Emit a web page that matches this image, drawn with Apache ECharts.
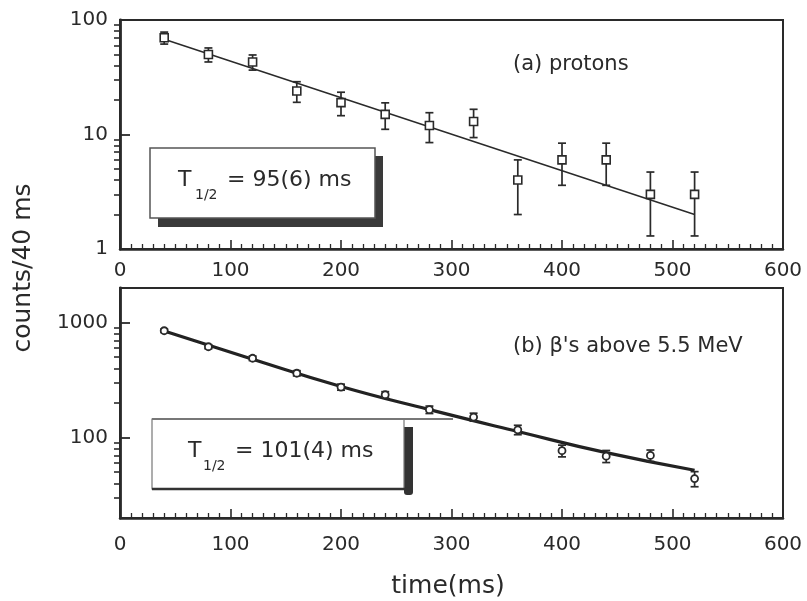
<!DOCTYPE html>
<html><head><meta charset="utf-8">
<script src="https://cdn.jsdelivr.net/npm/echarts@6/dist/echarts.min.js"></script>
<style>html,body{margin:0;padding:0;background:#fff}#c{width:807px;height:601px}</style>
</head><body><div id="c"></div>
<script>
// ---- data ----
const timeMs = [40, 80, 120, 160, 200, 240, 280, 320, 360, 400, 440, 480, 520];
const protonCounts = [70, 50, 43, 24, 19, 15, 12, 13, 4, 6, 6, 3, 3];
const protonErr = [8.4, 7, 6.5, 4.9, 4.4, 3.9, 3.5, 3.6, 2, 2.4, 2.4, 1.7, 1.7];
const protonFitTime = [40, 520];
const protonFitCounts = [68, 2.0];
const betaCounts = [850, 617, 490, 363, 275, 236, 175, 151, 117, 77, 69, 70, 44];
const betaErr = [29, 25, 22, 19, 16.5, 15, 13, 12, 11, 9, 8.3, 8, 6.6];
const betaFitTime = [40, 120, 200, 280, 360, 440, 520];
const betaFitCounts = [844, 480, 278, 175, 113, 74, 52];
const xTickLabels = [0, 100, 200, 300, 400, 500, 600];
const yTicksTop = [1, 10, 100];
const yMinorTop = [2, 3, 4, 5, 6, 7, 8, 9, 20, 30, 40, 50, 60, 70, 80, 90];
const yTicksBottom = [100, 1000];
const yMinorBottom = [30, 40, 50, 60, 70, 80, 90, 200, 300, 400, 500, 600, 700, 800, 900];
const yRangeTop = [1, 100];
const yRangeBottom = [20, 2000];

const L = Math.log10;
const INK = '#2a2a2a';
const FONT = '"DejaVu Sans", "Liberation Sans", sans-serif';

function xAxisCfg(gridIndex, margin) {
  return {
    type: 'value', gridIndex, min: xTickLabels[0], max: xTickLabels[xTickLabels.length - 1], interval: 100,
    axisLine: { show: true, onZero: false, lineStyle: { color: INK, width: 2.5 } },
    axisTick: { show: true, inside: true, length: 9, lineStyle: { color: INK, width: 1.6 } },
    minorTick: { show: true, splitNumber: 10, length: 5, lineStyle: { color: INK, width: 1.3 } },
    splitLine: { show: false }, minorSplitLine: { show: false },
    axisLabel: { color: INK, fontSize: 20, fontFamily: FONT, margin: margin }
  };
}
function yMajor(gridIndex, range, ticks) {
  const lv = ticks.map(L);
  return {
    type: 'value', gridIndex, min: L(range[0]), max: L(range[1]),
    axisLine: { show: true, onZero: false, lineStyle: { color: INK, width: 2.8 } },
    axisTick: { show: true, inside: true, length: 10, customValues: lv, lineStyle: { color: INK, width: 1.8 } },
    splitLine: { show: false },
    axisLabel: { color: INK, fontSize: 20, fontFamily: FONT, margin: 12, customValues: lv,
      formatter: v => String(Math.round(Math.pow(10, v))) }
  };
}
function yMinor(gridIndex, range, ticks) {
  return {
    type: 'value', gridIndex, min: L(range[0]), max: L(range[1]),
    axisLine: { show: false },
    axisTick: { show: true, inside: true, length: 6, customValues: ticks.map(L), lineStyle: { color: INK, width: 1.6 } },
    splitLine: { show: false },
    axisLabel: { show: false }
  };
}
function errRender(params, api) {
  const x = api.value(0), lo = api.value(1), hi = api.value(2);
  const p1 = api.coord([x, lo]), p2 = api.coord([x, hi]);
  const w = 4;
  const style = { stroke: INK, lineWidth: 1.7 };
  return { type: 'group', children: [
    { type: 'line', shape: { x1: p1[0], y1: p1[1], x2: p2[0], y2: p2[1] }, style },
    { type: 'line', shape: { x1: p1[0] - w, y1: p1[1], x2: p1[0] + w, y2: p1[1] }, style },
    { type: 'line', shape: { x1: p2[0] - w, y1: p2[1], x2: p2[0] + w, y2: p2[1] }, style }
  ]};
}
const protonPts = timeMs.map((t, i) => [t, L(protonCounts[i])]);
const protonBars = timeMs.map((t, i) => [t, L(protonCounts[i] - protonErr[i]), L(protonCounts[i] + protonErr[i])]);
const protonFit = protonFitTime.map((t, i) => [t, L(protonFitCounts[i])]);
const betaPts = timeMs.map((t, i) => [t, L(betaCounts[i])]);
const betaBars = timeMs.map((t, i) => [t, L(betaCounts[i] - betaErr[i]), L(betaCounts[i] + betaErr[i])]);
const betaFit = betaFitTime.map((t, i) => [t, L(betaFitCounts[i])]);

function txt(x, y, text, size, align, extra) {
  return Object.assign({ type: 'text', x: x, y: y, z: 100,
    style: { text: text, x: 0, y: 0, fill: INK, font: size + 'px ' + FONT, textAlign: align || 'left', textVerticalAlign: 'middle' } }, extra || {});
}

const chart = echarts.init(document.getElementById('c'), null, { renderer: 'canvas' });
chart.setOption({
  animation: false,
  backgroundColor: '#fff',
  grid: [
    { left: 120, right: 24, top: 20, height: 229, show: true, borderColor: INK, borderWidth: 2 },
    { left: 120, right: 24, top: 288, height: 230, show: true, borderColor: INK, borderWidth: 2 }
  ],
  xAxis: [xAxisCfg(0, 12), xAxisCfg(1, 17)],
  yAxis: [yMajor(0, yRangeTop, yTicksTop), yMinor(0, yRangeTop, yMinorTop),
          yMajor(1, yRangeBottom, yTicksBottom), yMinor(1, yRangeBottom, yMinorBottom)],
  series: [
    { type: 'line', xAxisIndex: 0, yAxisIndex: 0, data: protonFit, symbol: 'none', z: 3,
      lineStyle: { color: INK, width: 1.5 } },
    { type: 'custom', xAxisIndex: 0, yAxisIndex: 0, data: protonBars, renderItem: errRender, z: 4,
      encode: { x: 0, y: [1, 2] } },
    { type: 'scatter', xAxisIndex: 0, yAxisIndex: 0, data: protonPts, symbol: 'rect', symbolSize: 8, z: 5,
      itemStyle: { color: '#fff', borderColor: INK, borderWidth: 1.6, opacity: 1 } },
    { type: 'line', xAxisIndex: 1, yAxisIndex: 2, data: betaFit, symbol: 'none', smooth: true, z: 3,
      lineStyle: { color: '#222', width: 3.2 } },
    { type: 'custom', xAxisIndex: 1, yAxisIndex: 2, data: betaBars, renderItem: errRender, z: 4,
      encode: { x: 0, y: [1, 2] } },
    { type: 'scatter', xAxisIndex: 1, yAxisIndex: 2, data: betaPts, symbol: 'circle', symbolSize: 7, z: 5,
      itemStyle: { color: '#fff', borderColor: INK, borderWidth: 1.8, opacity: 1 } }
  ],
  graphic: [
    // top half-life box
    { type: 'rect', z: 50, shape: { x: 158, y: 156, width: 225, height: 71 }, style: { fill: '#3a3a3a' } },
    { type: 'rect', z: 51, shape: { x: 150, y: 148, width: 225, height: 70 }, style: { fill: '#fff', stroke: '#555', lineWidth: 1.5 } },
    txt(178, 180, 'T', 22),
    txt(195, 195, '1/2', 14),
    txt(227, 180, '= 95(6) ms', 22),
    // bottom half-life box
    { type: 'rect', z: 50, shape: { x: 404, y: 427, width: 9, height: 68, r: [0, 0, 3, 3] }, style: { fill: '#333' } },
    { type: 'rect', z: 51, shape: { x: 152, y: 419, width: 252, height: 70 }, style: { fill: '#fff', stroke: '#777', lineWidth: 1.2 } },
    { type: 'line', z: 52, shape: { x1: 152, y1: 419, x2: 453, y2: 419 }, style: { stroke: '#777', lineWidth: 2 } },
    { type: 'line', z: 52, shape: { x1: 152, y1: 489, x2: 410, y2: 489 }, style: { stroke: '#333', lineWidth: 2.5 } },
    txt(188, 451, 'T', 22),
    txt(203, 466, '1/2', 14),
    txt(235, 451, '= 101(4) ms', 22),
    // panel labels
    txt(513, 65, '(a) protons', 21),
    txt(513, 347, '(b) β\'s above 5.5 MeV', 21),
    // axis titles
    txt(448, 586, 'time(ms)', 25, 'center'),
    txt(23, 268, 'counts/40 ms', 25, 'center', { rotation: Math.PI / 2 })
  ]
});
</script>
</body></html>
